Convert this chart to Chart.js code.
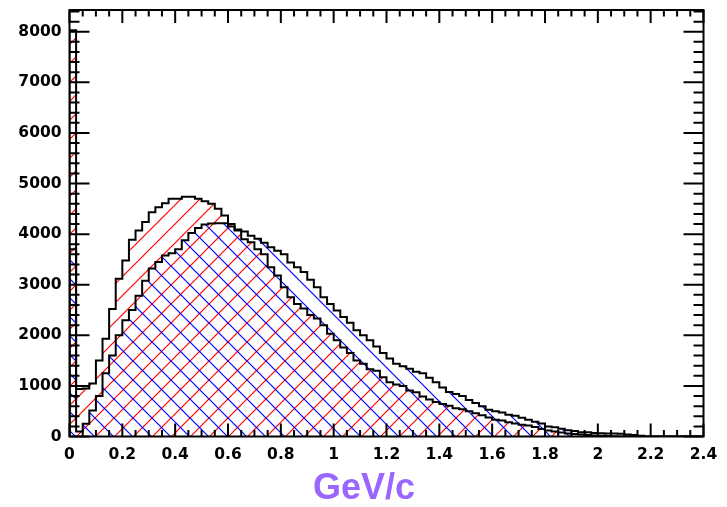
<!DOCTYPE html>
<html>
<head>
<meta charset="utf-8">
<script src="https://cdn.jsdelivr.net/npm/chart.js@4.4.1/dist/chart.umd.min.js"></script>
<style>
  html, body { margin: 0; padding: 0; background: #fff; }
  #wrap { width: 727px; height: 507px; }
</style>
</head>
<body>
<div id="wrap"><canvas id="hist"></canvas></div>
<script>
// Histogram binning: 96 bins of 0.025 GeV/c from 0 to 2.4
const binLow   = 0;
const binWidth = 0.025;

// Red-hatched histogram, counts per bin
const countsRed = [
  8030,  940,  950, 1050, 1500, 1930, 2520, 3120, 3480, 3890,
  4070, 4240, 4430, 4530, 4610, 4700, 4700, 4740, 4740, 4700,
  4650, 4600, 4500, 4370, 4200, 4070, 3900, 3840, 3700, 3600,
  3345, 3180, 2950, 2750, 2620, 2530, 2400, 2330, 2200, 2030,
  1900, 1760, 1650, 1500, 1440, 1330, 1300, 1170, 1070, 1030,
  1000,  910,  875,  790,  730,  680,  640,  610,  560,  540,
   500,  460,  420,  375,  330,  316,  280,  255,  230,  217,
   190,  150,  120,  100,   80,   60,   50,   40,   30,   20,
    15,   10,    5,    0,    0,    0,    0,    0,    0,    0,
     0,    0,    0,    0,    0,    0
];

// Blue-hatched histogram, counts per bin
const countsBlue = [
  3700,  100,  250,  515,  800, 1250, 1600, 2000, 2300, 2500,
  2780, 3080, 3320, 3450, 3580, 3620, 3700, 3880, 4020, 4120,
  4190, 4210, 4215, 4215, 4150, 4090, 4050, 3970, 3910, 3830,
  3740, 3670, 3600, 3440, 3345, 3250, 3100, 2950, 2750, 2620,
  2490, 2360, 2250, 2100, 2000, 1900, 1780, 1650, 1540, 1440,
  1390, 1340, 1280, 1250, 1160, 1070,  970,  880,  840,  800,
   720,  660,  600,  530,  500,  475,  430,  410,  370,  330,
   290,  255,  200,  185,  155,  125,  110,   85,   85,   70,
    65,   60,   60,   55,   40,   30,   15,    0,    0,    0,
     0,    0,    0,    0,    0,    0
];

// Axis labels
const xTicks = [0, 0.2, 0.4, 0.6, 0.8, 1, 1.2, 1.4, 1.6, 1.8, 2, 2.2, 2.4];
const yTicks = [0, 1000, 2000, 3000, 4000, 5000, 6000, 7000, 8000];
const xTitle = 'GeV/c';

const X_MAX = 2.4;
const Y_MAX = 8430;

// turn bin contents into step points: left edge of every bin, closed at both ends
function stepPoints(counts) {
  const pts = [{ x: binLow, y: 0 }];
  counts.forEach((c, i) => pts.push({ x: binLow + i * binWidth, y: c }));
  pts.push({ x: binLow + counts.length * binWidth, y: 0 });
  return pts;
}

// 45 degree hatch pattern, dir = 1 for "/", -1 for "\"
function hatch(color, dir) {
  const s = 19;
  const c = document.createElement('canvas');
  c.width = s; c.height = s;
  const g = c.getContext('2d');
  g.strokeStyle = color;
  g.lineWidth = 1.2;
  for (const o of [-s, 0, s]) {
    g.beginPath();
    if (dir > 0) { g.moveTo(o - 1, s + 1); g.lineTo(o + s + 1, -1); }
    else         { g.moveTo(o - 1, -1);    g.lineTo(o + s + 1, s + 1); }
    g.stroke();
  }
  return g.createPattern(c, 'repeat');
}

// frame box with inward ticks on all four sides, plus the axis title
const rootFrame = {
  id: 'rootFrame',
  afterDatasetsDraw(chart) {
    const { ctx, chartArea: a, scales: { x, y } } = chart;
    ctx.save();
    ctx.strokeStyle = '#000';
    ctx.lineWidth = 2;
    ctx.beginPath();
    for (let k = 0; k <= 48; k++) {
      const px = x.getPixelForValue(k * 0.05);
      const len = k % 4 === 0 ? 13 : 6.5;
      ctx.moveTo(px, a.bottom); ctx.lineTo(px, a.bottom - len);
      ctx.moveTo(px, a.top);    ctx.lineTo(px, a.top + len);
    }
    for (let k = 0; k * 200 <= Y_MAX; k++) {
      const py = y.getPixelForValue(k * 200);
      const len = k % 5 === 0 ? 20 : 10;
      ctx.moveTo(a.left, py);  ctx.lineTo(a.left + len, py);
      ctx.moveTo(a.right, py); ctx.lineTo(a.right - len, py);
    }
    ctx.stroke();
    ctx.strokeRect(a.left, a.top, a.right - a.left, a.bottom - a.top);

    ctx.fillStyle = '#9966ff';
    ctx.font = 'bold 36px "Liberation Sans"';
    ctx.textAlign = 'center';
    ctx.textBaseline = 'alphabetic';
    ctx.fillText(xTitle, 364, 499);
    ctx.restore();
  }
};

const tickFont = { family: 'DejaVu Sans', size: 15.5, weight: 'bold' };

new Chart(document.getElementById('hist'), {
  type: 'line',
  data: {
    datasets: [
      {
        data: stepPoints(countsBlue),
        stepped: 'before',
        borderColor: '#000',
        borderWidth: 2,
        backgroundColor: hatch('#0000ff', -1),
        fill: 'origin',
        pointRadius: 0,
        tension: 0,
      },
      {
        data: stepPoints(countsRed),
        stepped: 'before',
        borderColor: '#000',
        borderWidth: 2,
        backgroundColor: hatch('#ff0000', 1),
        fill: 'origin',
        pointRadius: 0,
        tension: 0,
      },
    ]
  },
  options: {
    responsive: true,
    maintainAspectRatio: false,
    animation: false,
    events: [],
    layout: { padding: { left: 0, top: 10, right: 23.5, bottom: 0 } },
    plugins: {
      legend: { display: false },
      tooltip: { enabled: false },
      title: { display: false },
      filler: { drawTime: 'beforeDatasetsDraw' },
    },
    scales: {
      x: {
        type: 'linear',
        min: 0,
        max: X_MAX,
        afterBuildTicks: s => { s.ticks = xTicks.map(v => ({ value: v })); },
        afterFit: s => {
          s.height = 70.5;
          s.paddingLeft = 0; s.paddingRight = 0;
        },
        grid: { display: false, drawTicks: false },
        border: { display: false },
        ticks: {
          color: '#000',
          font: tickFont,
          padding: 9,
          maxRotation: 0,
          autoSkip: false,
          callback: v => String(+v.toFixed(1)),
        },
      },
      y: {
        min: 0,
        max: Y_MAX,
        afterBuildTicks: s => { s.ticks = yTicks.map(v => ({ value: v })); },
        afterFit: s => {
          s.width = 69.5;
          s.paddingTop = 0; s.paddingBottom = 0;
        },
        grid: { display: false, drawTicks: false },
        border: { display: false },
        ticks: {
          color: '#000',
          font: tickFont,
          padding: 8,
          autoSkip: false,
          callback: v => String(v),
        },
      },
    },
  },
  plugins: [rootFrame],
});
</script>
</body>
</html>
